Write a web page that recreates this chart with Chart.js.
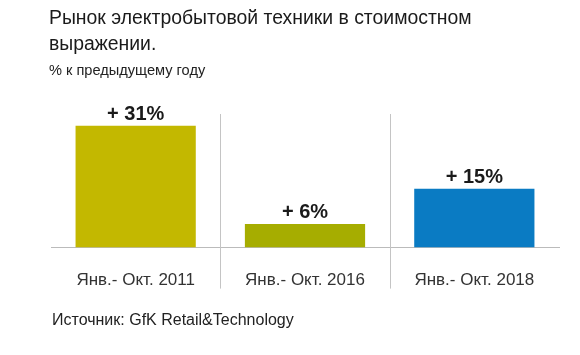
<!DOCTYPE html>
<html>
<head>
<meta charset="utf-8">
<script src="https://cdn.jsdelivr.net/npm/chart.js@4/dist/chart.umd.min.js"></script>
<style>
  html, body { margin: 0; padding: 0; background: #fff; }
  #wrap { position: relative; width: 580px; height: 355px; overflow: hidden; font-family: "Liberation Sans", Arial, sans-serif; }
  #chart { position: absolute; left: 0; top: 0; }
  .t { position: absolute; white-space: nowrap; }
  #title { left: 49px; top: 4px; font-size: 19.4px; line-height: 26px; color: #1a1a1a; }
  #subtitle { left: 49px; top: 62px; font-size: 14.6px; line-height: 17px; color: #222; }
  #source { left: 52px; top: 311px; font-size: 16px; line-height: 18px; color: #222; }
</style>
</head>
<body>
<div id="wrap">
  <canvas id="chart" width="580" height="355"></canvas>
  <div class="t" id="title">Рынок электробытовой техники в стоимостном<br>выражении.</div>
  <div class="t" id="subtitle">% к предыдущему году</div>
  <div class="t" id="source">Источник: GfK Retail&amp;Technology</div>
</div>
<script>
const categories = ["Янв.- Окт. 2011", "Янв.- Окт. 2016", "Янв.- Окт. 2018"];
const growthValues = [31, 6, 15];
const barColors = ["#C3B800", "#A6AD00", "#0A7BC3"];

const valueLabels = {
  id: "valueLabels",
  afterDatasetsDraw(chart) {
    const ctx = chart.ctx;
    const meta = chart.getDatasetMeta(0);
    ctx.save();
    ctx.font = "bold 20px 'Liberation Sans', Arial, sans-serif";
    ctx.fillStyle = "#1a1a1a";
    ctx.textAlign = "center";
    ctx.textBaseline = "alphabetic";
    meta.data.forEach((bar, i) => {
      ctx.fillText("+ " + growthValues[i] + "%", bar.x, bar.y - 6);
    });
    ctx.restore();
  }
};

// vertical dividers between categories, placed from the x scale
const dividers = {
  id: "dividers",
  beforeDatasetsDraw(chart) {
    const xs = chart.scales.x;
    const area = chart.chartArea;
    const ctx = chart.ctx;
    ctx.save();
    ctx.strokeStyle = "#c4c4c4";
    ctx.lineWidth = 1;
    for (let i = 1; i < categories.length; i++) {
      const x = Math.round((xs.getPixelForTick(i - 1) + xs.getPixelForTick(i)) / 2) + 0.5;
      ctx.beginPath();
      ctx.moveTo(x, area.top);
      ctx.lineTo(x, area.bottom + 41);
      ctx.stroke();
    }
    ctx.restore();
  }
};

new Chart(document.getElementById("chart"), {
  type: "bar",
  data: {
    labels: categories,
    datasets: [{
      data: growthValues,
      backgroundColor: barColors,
      borderWidth: 0,
      barPercentage: 0.71,
      categoryPercentage: 1.0
    }]
  },
  options: {
    responsive: false,
    animation: false,
    events: [],
    layout: { padding: { left: 51, right: 21, top: 114, bottom: 41 } },
    plugins: {
      legend: { display: false },
      tooltip: { enabled: false },
      title: { display: false }
    },
    scales: {
      x: {
        offset: true,
        border: { display: true, color: "#bbbbbb", width: 1 },
        grid: { display: false, drawTicks: false },
        ticks: {
          padding: 23,
          color: "#333333",
          font: { family: "'Liberation Sans', Arial, sans-serif", size: 17 },
          maxRotation: 0,
          autoSkip: false
        }
      },
      y: {
        display: false,
        min: 0,
        max: 34
      }
    }
  },
  plugins: [dividers, valueLabels]
});
</script>
</body>
</html>
